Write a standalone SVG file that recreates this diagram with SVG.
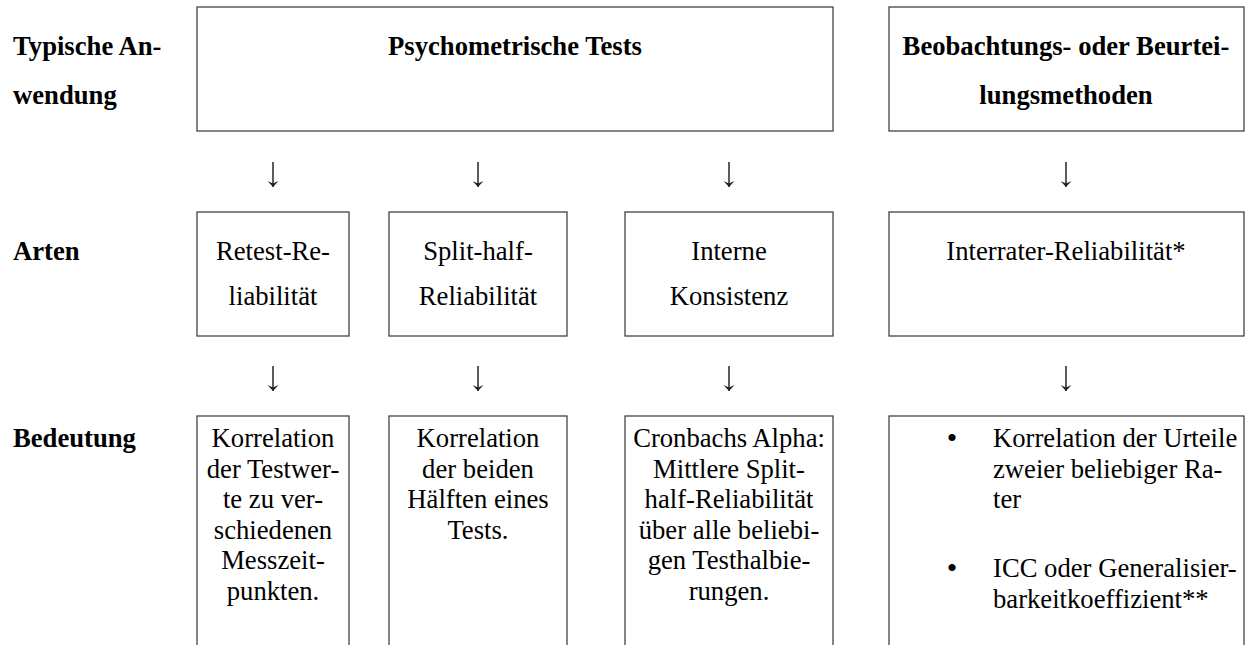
<svg xmlns="http://www.w3.org/2000/svg" width="1247" height="645" viewBox="0 0 1247 645">
<defs>
<style>
.box{fill:#fff;stroke:#444;stroke-width:1.3}
.t{font-family:"Liberation Serif","Times New Roman",serif;font-size:26.67px;fill:#000}
.b{font-weight:bold}
.c{text-anchor:middle}
.arr{stroke:#333;stroke-width:1.6;fill:none}
.bul{font-size:30px}
</style>
<marker id="ah" viewBox="0 0 6 11" refX="6" refY="5.5" markerWidth="6" markerHeight="11" markerUnits="userSpaceOnUse" orient="auto">
<path d="M0,0 L6,5.5 L0,11 L2.5,5.5 Z" fill="#222"/>
</marker>
</defs>
<rect width="1247" height="645" fill="#fff"/>
<g id="labels">
<text class="t b" x="13" y="55">Typische An-</text>
<text class="t b" x="13" y="104">wendung</text>
<text class="t b" x="13" y="260">Arten</text>
<text class="t b" x="13" y="447">Bedeutung</text>
</g>
<g id="psychometrische-tests">
<rect class="box" x="197" y="7" width="636" height="124"/>
<text class="t b c" x="515" y="55">Psychometrische Tests</text>
</g>
<g id="beobachtungsmethoden">
<rect class="box" x="889" y="7" width="355" height="124"/>
<text class="t b c" x="1066" y="55">Beobachtungs- oder Beurtei-</text>
<text class="t b c" x="1066" y="104">lungsmethoden</text>
</g>
<g id="retest">
<rect class="box" x="197" y="212" width="152" height="124"/>
<text class="t c" x="273" y="260">Retest-Re-</text>
<text class="t c" x="273" y="305">liabilität</text>
</g>
<g id="splithalf">
<rect class="box" x="389" y="212" width="178" height="124"/>
<text class="t c" x="478" y="260">Split-half-</text>
<text class="t c" x="478" y="305">Reliabilität</text>
</g>
<g id="interne-konsistenz">
<rect class="box" x="625" y="212" width="208" height="124"/>
<text class="t c" x="729" y="260">Interne</text>
<text class="t c" x="729" y="305">Konsistenz</text>
</g>
<g id="interrater">
<rect class="box" x="889" y="212" width="355" height="124"/>
<text class="t c" x="1066" y="260">Interrater-Reliabilität*</text>
</g>
<g id="retest-bedeutung">
<rect class="box" x="197" y="416" width="152" height="240"/>
<text class="t c" x="273" y="447">Korrelation</text>
<text class="t c" x="273" y="478">der Testwer-</text>
<text class="t c" x="273" y="508">te zu ver-</text>
<text class="t c" x="273" y="539">schiedenen</text>
<text class="t c" x="273" y="569">Messzeit-</text>
<text class="t c" x="273" y="600">punkten.</text>
</g>
<g id="splithalf-bedeutung">
<rect class="box" x="389" y="416" width="178" height="240"/>
<text class="t c" x="478" y="447">Korrelation</text>
<text class="t c" x="478" y="478">der beiden</text>
<text class="t c" x="478" y="508">Hälften eines</text>
<text class="t c" x="478" y="539">Tests.</text>
</g>
<g id="interne-bedeutung">
<rect class="box" x="625" y="416" width="208" height="240"/>
<text class="t c" x="729" y="447">Cronbachs Alpha:</text>
<text class="t c" x="729" y="478">Mittlere Split-</text>
<text class="t c" x="729" y="508">half-Reliabilität</text>
<text class="t c" x="729" y="539">über alle beliebi-</text>
<text class="t c" x="729" y="569">gen Testhalbie-</text>
<text class="t c" x="729" y="600">rungen.</text>
</g>
<g id="interrater-bedeutung">
<rect class="box" x="889" y="416" width="355" height="240"/>
<text class="t bul c" x="952" y="448">•</text>
<text class="t" x="993" y="447">Korrelation der Urteile</text>
<text class="t" x="993" y="478">zweier beliebiger Ra-</text>
<text class="t" x="993" y="508">ter</text>
<text class="t bul c" x="952" y="578">•</text>
<text class="t" x="993" y="577">ICC oder Generalisier-</text>
<text class="t" x="993" y="608">barkeitkoeffizient**</text>
</g>
<g id="connectors">
<line class="arr" x1="273" y1="162" x2="273" y2="187" marker-end="url(#ah)"/>
<line class="arr" x1="478" y1="162" x2="478" y2="187" marker-end="url(#ah)"/>
<line class="arr" x1="729" y1="162" x2="729" y2="187" marker-end="url(#ah)"/>
<line class="arr" x1="1066" y1="162" x2="1066" y2="187" marker-end="url(#ah)"/>
<line class="arr" x1="273" y1="366" x2="273" y2="391" marker-end="url(#ah)"/>
<line class="arr" x1="478" y1="366" x2="478" y2="391" marker-end="url(#ah)"/>
<line class="arr" x1="729" y1="366" x2="729" y2="391" marker-end="url(#ah)"/>
<line class="arr" x1="1066" y1="366" x2="1066" y2="391" marker-end="url(#ah)"/>
</g>
</svg>
